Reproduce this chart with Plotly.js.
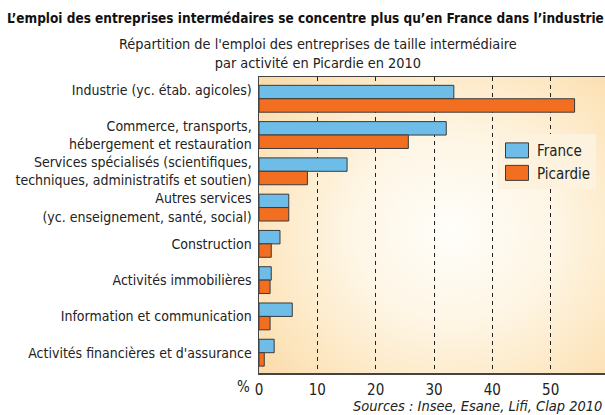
<!DOCTYPE html>
<html>
<head>
<meta charset="utf-8">
<script src="https://cdn.plot.ly/plotly-3.0.1.min.js"></script>
<style>
html, body { margin:0; padding:0; overflow:hidden; background:#ffffff; width:605px; height:415px; }
#wrap { position:relative; width:612px; height:415px; }
#bg { position:absolute; left:259px; top:77px; width:350px; height:296px;
  background: radial-gradient(ellipse 70% 75% at 55% 52%, #fffefa 0%, #fef6e6 40%, #fde8c4 75%, #fbdcab 100%); z-index:0; }
#chart { position:absolute; left:0; top:0; width:612px; height:415px; z-index:1; }
</style>
</head>
<body>
<div id="wrap"><div id="bg"></div><div id="chart"></div></div>
<script>
const categories = [
  "Industrie (yc. étab. agicoles)",
  "Commerce, transports, hébergement et restauration",
  "Services spécialisés (scientifiques, techniques, administratifs et soutien)",
  "Autres services (yc. enseignement, santé, social)",
  "Construction",
  "Activités immobilières",
  "Information et communication",
  "Activités financières et d'assurance"
];
const tickLabels = [
  "Industrie (yc. étab. agicoles)<br>&nbsp;",
  "Commerce, transports,<br>hébergement et restauration",
  "Services spécialisés (scientifiques,<br>techniques, administratifs et soutien)",
  "Autres services<br>(yc. enseignement, santé, social)",
  "Construction",
  "Activités immobilières",
  "Information et communication",
  "Activités financières et d'assurance"
];
const france   = [33.4, 32.1, 15.1, 5.1, 3.6, 2.1, 5.7, 2.6];
const picardie = [54.1, 25.6, 8.3, 5.1, 2.1, 1.9, 1.9, 0.9];
const xTicks = [0, 10, 20, 30, 40, 50, 60];

const FONT = '"Liberation Sans Narrow", "DejaVu Sans Condensed", Arial, sans-serif';

const traces = [
  { type:'bar', orientation:'h', name:'France', y:categories, x:france,
    marker:{ color:'#6dbde8', line:{ color:'#3a3a3a', width:1 } } },
  { type:'bar', orientation:'h', name:'Picardie', y:categories, x:picardie,
    marker:{ color:'#f26f22', line:{ color:'#3a3a3a', width:1 } } }
];

const layout = {
  width:612, height:415,
  margin:{ l:259, r:3, t:77, b:42 },
  paper_bgcolor:'rgba(0,0,0,0)', plot_bgcolor:'rgba(0,0,0,0)',
  font:{ family:FONT, size:14, color:'#222' },
  barmode:'group', bargap:0.26, bargroupgap:0,
  showlegend:true,
  legend:{ x:0.68, xanchor:'left', y:0.807, yanchor:'top', bgcolor:'#fdf2dd',
    font:{ family:FONT, size:15, color:'#222' }, tracegroupgap:0, borderwidth:0 },
  xaxis:{ range:[0,60], tickvals:xTicks, ticktext:xTicks.map(String),
    showgrid:true, gridcolor:'#222', gridwidth:1, griddash:'4px,4px',
    zeroline:false, showline:true, linecolor:'#444', linewidth:1.5, mirror:true,
    ticks:'', tickfont:{ family:FONT, size:15, color:'#222' }, ticklabelstandoff:2 },
  yaxis:{ type:'category', categoryarray:categories, categoryorder:'array',
    tickvals:categories, ticktext:tickLabels,
    range:[7.56, -0.6], showgrid:false, zeroline:false,
    showline:true, linecolor:'#444', linewidth:1.5, mirror:true,
    ticks:'', tickfont:{ family:FONT, size:14, color:'#222' }, ticklabelstandoff:3 },
  annotations:[
    { text:'<b>L’emploi des entreprises intermédaires se concentre plus qu’en France dans l’industrie</b>',
      xref:'paper', yref:'paper', x:(305-259)/350, y:1, yshift:59, xanchor:'center', yanchor:'middle',
      showarrow:false, font:{ family:FONT, size:13.5, color:'#111' } },
    { text:'Répartition de l\'emploi des entreprises de taille intermédiaire<br>par activité en Picardie en 2010',
      xref:'paper', yref:'paper', x:(318-259)/350, y:1, yshift:24, xanchor:'center', yanchor:'middle',
      showarrow:false, font:{ family:FONT, size:14.4, color:'#222' } },
    { text:'%', xref:'paper', yref:'paper', x:0, y:0, xshift:-16, yshift:-14, xanchor:'center', yanchor:'middle',
      showarrow:false, font:{ family:FONT, size:15, color:'#222' } },
    { text:'<i>Sources : Insee, Esane, Lifi, Clap 2010</i>', xref:'paper', yref:'paper', x:(604-259)/350, y:0,
      yshift:-33, xanchor:'right', yanchor:'middle', showarrow:false,
      font:{ family:FONT, size:14.5, color:'#222' } }
  ]
};

Plotly.newPlot('chart', traces, layout, { displayModeBar:false, staticPlot:true }).then(function(){
  document.querySelectorAll('.legend .legendpoints path').forEach(function(p){
    p.setAttribute('d','M11.5,7.5H-11.5V-7.5H11.5Z');
  });
});
</script>
</body>
</html>
